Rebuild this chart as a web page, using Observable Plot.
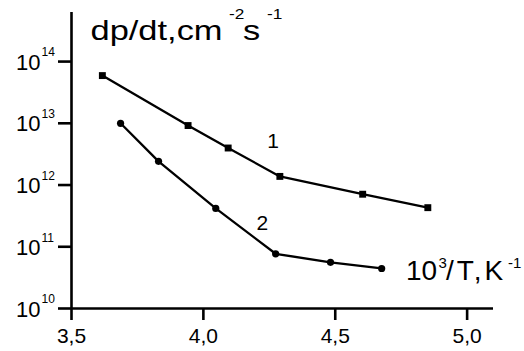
<!DOCTYPE html>
<html>
<head>
<meta charset="utf-8">
<script src="https://cdn.jsdelivr.net/npm/d3@7"></script>
<script src="https://cdn.jsdelivr.net/npm/@observablehq/plot@0.6"></script>
<style>
  html, body { margin: 0; padding: 0; background: #fff; }
</style>
</head>
<body>
<div id="chart"></div>
<script>
// ---- data ----
const curve1X = [3.617, 3.942, 4.094, 4.290, 4.604, 4.851];
const curve1Y = [5.93e13, 9.2e12, 3.98e12, 1.38e12, 7.1e11, 4.3e11];
const curve2X = [3.686, 3.830, 4.047, 4.274, 4.482, 4.676];
const curve2Y = [1.0e13, 2.42e12, 4.18e11, 7.7e10, 5.6e10, 4.45e10];
const curveNames = ["1", "2"];
const curveLabelX = [4.264, 4.224];
const curveLabelY = [5.15e12, 2.4e11];
const xTicks = [3.5, 4.0, 4.5, 5.0];
const xTickLabels = ["3,5", "4,0", "4,5", "5,0"];
const yExponents = [10, 11, 12, 13, 14];

// ---- tables built from the arrays ----
const curve1 = curve1X.map((x, i) => ({x, y: curve1Y[i]}));
const curve2 = curve2X.map((x, i) => ({x, y: curve2Y[i]}));
const curveLabels = curveNames.map((t, i) => ({t, x: curveLabelX[i], y: curveLabelY[i]}));
const yTicks = yExponents.map(e => Math.pow(10, e));

const FONT = "'Liberation Sans', Arial, Helvetica, sans-serif";
const AX = 2.6;

const chart = Plot.plot({
  width: 524,
  height: 351,
  marginLeft: 71,
  marginRight: 31,
  marginTop: 12,
  marginBottom: 43,
  style: {fontFamily: FONT, background: "#fff", color: "#000"},
  x: {domain: [3.5, 5.1]},
  y: {type: "log", domain: [1e10, Math.pow(10, 14.795)]},
  marks: [
    Plot.ruleX([3.5], {stroke: "#000", strokeWidth: AX}),
    Plot.ruleY([1e10], {stroke: "#000", strokeWidth: AX}),
    Plot.axisX({
      ticks: xTicks, tickSize: 12, tickPadding: 8, strokeWidth: AX,
      tickFormat: d => xTickLabels[xTicks.indexOf(d)],
      fontSize: 21, label: null, fill: "#000", stroke: "#000"
    }),
    Plot.axisY({
      ticks: yTicks, tickSize: 13, strokeWidth: AX,
      tickFormat: () => "", label: null, stroke: "#000"
    }),
    Plot.text(yTicks, {
      y: d => d, frameAnchor: "left", text: () => "10",
      textAnchor: "end", dx: -31, dy: 1, fontSize: 22, fill: "#000"
    }),
    Plot.text(yTicks, {
      y: d => d, frameAnchor: "left", text: d => String(Math.round(Math.log10(d))),
      textAnchor: "start", dx: -30, dy: -9, fontSize: 12, fill: "#000"
    }),
    Plot.line(curve1, {x: "x", y: "y", stroke: "#000", strokeWidth: 2.3}),
    Plot.line(curve2, {x: "x", y: "y", stroke: "#000", strokeWidth: 2.3}),
    Plot.dot(curve1, {x: "x", y: "y", symbol: "square", r: 3.9, fill: "#000", stroke: "none"}),
    Plot.dot(curve2, {x: "x", y: "y", symbol: "circle", r: 3.6, fill: "#000", stroke: "none"}),
    Plot.text(curveLabels, {x: "x", y: "y", text: "t", fontSize: 21, fill: "#000"})
  ]
});

document.getElementById("chart").appendChild(chart);

// ---- axis titles with superscripts ----
const svg = d3.select(chart);
const title = svg.append("text")
  .attr("transform", "translate(90.5,40) scale(1.23,1)")
  .attr("text-anchor", "start")
  .attr("font-family", FONT).attr("font-size", 28).attr("fill", "#000");
title.append("tspan").attr("x", 0).attr("y", 0).text("dp/dt,cm");
title.append("tspan").attr("x", 112.6).attr("y", -21).attr("font-size", 14).text("-2");
title.append("tspan").attr("x", 124).attr("y", 0).text("s");
title.append("tspan").attr("x", 143.5).attr("y", -21).attr("font-size", 14).text("-1");

const xl = svg.append("text")
  .attr("text-anchor", "start")
  .attr("font-family", FONT).attr("font-size", 28).attr("fill", "#000");
xl.append("tspan").attr("x", 406).attr("y", 280).text("10");
xl.append("tspan").attr("x", 438.5).attr("y", 268).attr("font-size", 15).text("3");
xl.append("tspan").attr("x", 446).attr("y", 280).attr("letter-spacing", 3).text("/T,K");
xl.append("tspan").attr("x", 508).attr("y", 268).attr("font-size", 15).text("-1");
</script>
</body>
</html>
